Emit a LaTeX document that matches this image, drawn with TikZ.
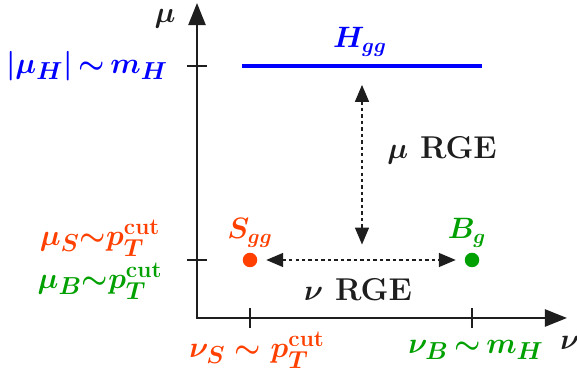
\documentclass[tikz,border=0pt]{standalone}
\usepackage{amsmath}
\usepackage{tikz}
\usetikzlibrary{
  arrows.meta,
  positioning
}
\definecolor{softclr}{RGB}{255, 64, 0}
\definecolor{beamclr}{RGB}{0, 160, 0}
\definecolor{hardclr}{RGB}{0, 0, 255}
\definecolor{axclr}{RGB}{30, 30, 30}
\tikzset{
  % Axes and ticks
  axisline/.style  = {line width=1.5pt, draw=axclr,
                      {Triangle[length=13pt,width=10pt]}-{Triangle[length=13pt,width=10pt]}},
  tickline/.style  = {line width=1.5pt, draw=axclr},
  % Scale line and evolution arrows
  hardline/.style  = {line width=1.8pt, draw=hardclr},
  rgearrow/.style  = {line width=1.5pt, draw=axclr, dash pattern=on 2pt off 1.8pt,
                      {Triangle[length=10pt,width=8pt]}-{Triangle[length=10pt,width=8pt]}},
  % Points
  dotsoft/.style   = {circle, fill=softclr, inner sep=0pt, minimum size=8.5pt},
  dotbeam/.style   = {circle, fill=beamclr, inner sep=0pt, minimum size=8.5pt},
  % Labels
  lab/.style       = {font=\fontsize{18.5}{21}\selectfont\boldmath\bfseries, inner sep=1pt},
  ticklab/.style   = {font=\fontsize{19}{21}\selectfont\boldmath\bfseries, inner sep=0pt},
}

\begin{document}
\begin{tikzpicture}[x=0.586pt, y=-0.586pt]
  \useasboundingbox (0,0) rectangle (577,374);
  % Axes
  \coordinate (O) at (197,318);
  \coordinate (ytip) at (197,3);
  \coordinate (xtip) at (567,318);
  \draw[axisline] (ytip) -- (O) -- (xtip);
  \node[lab, axclr] (mu) at (165,19) {$\mu$};
  \node[lab, axclr] (nu) at (570,343) {$\nu$};
  % Ticks
  \coordinate (tH) at (197,66);
  \coordinate (tS) at (197,260);
  \coordinate (tnuS) at (250,318);
  \coordinate (tnuB) at (472,318);
  \draw[tickline] ([xshift=-6pt]tH) -- ([xshift=6pt]tH);
  \draw[tickline] ([xshift=-6pt]tS) -- ([xshift=6pt]tS);
  \draw[tickline] ([yshift=-6pt]tnuS) -- ([yshift=6pt]tnuS);
  \draw[tickline] ([yshift=-6pt]tnuB) -- ([yshift=6pt]tnuB);
  % Tick labels
  \node[ticklab, hardclr] (lmuH) at (87,66) {$|\mu_H|{\,\sim\,}m_H$};
  \node[ticklab, softclr] (lmuS) at (100,238) {$\mu_S{\sim}p_T^{\text{cut}}$};
  \node[ticklab, beamclr] (lmuB) at (100,281) {$\mu_B{\sim}p_T^{\text{cut}}$};
  \node[ticklab, softclr] (lnuS) at (257,350) {$\nu_S \sim p_T^{\text{cut}}$};
  \node[ticklab, beamclr] (lnuB) at (476,350) {$\nu_B{\,\sim\,}m_H$};
  % Hard function
  \coordinate (Hl) at (242,66);
  \coordinate (Hr) at (482,66);
  \coordinate (Hmid) at (362,66);
  \draw[hardline] (Hl) -- (Hr);
  \node[lab, hardclr] (Hgg) at (360,42) {$H_{gg}$};
  % Soft and beam functions
  \node[dotsoft] (Sdot) at (250,260) {};
  \node[dotbeam] (Bdot) at (472,260) {};
  \node[lab, softclr] (Sgg) at (250,233) {$S_{gg}$};
  \node[lab, beamclr] (Bg) at (467,233) {$B_g$};
  \coordinate (Smid) at (362,260);
  % Evolution
  \draw[rgearrow, shorten <=5pt, shorten >=5pt] (Sdot) -- (Bdot);
  \draw[rgearrow, shorten <=11pt, shorten >=9pt] (Hmid) -- (Smid);
  \node[lab, axclr] (muRGE) at (442,150) {$\mu$ RGE};
  \node[lab, axclr] (nuRGE) at (358,290) {$\nu$ RGE};
\end{tikzpicture}
\end{document}
